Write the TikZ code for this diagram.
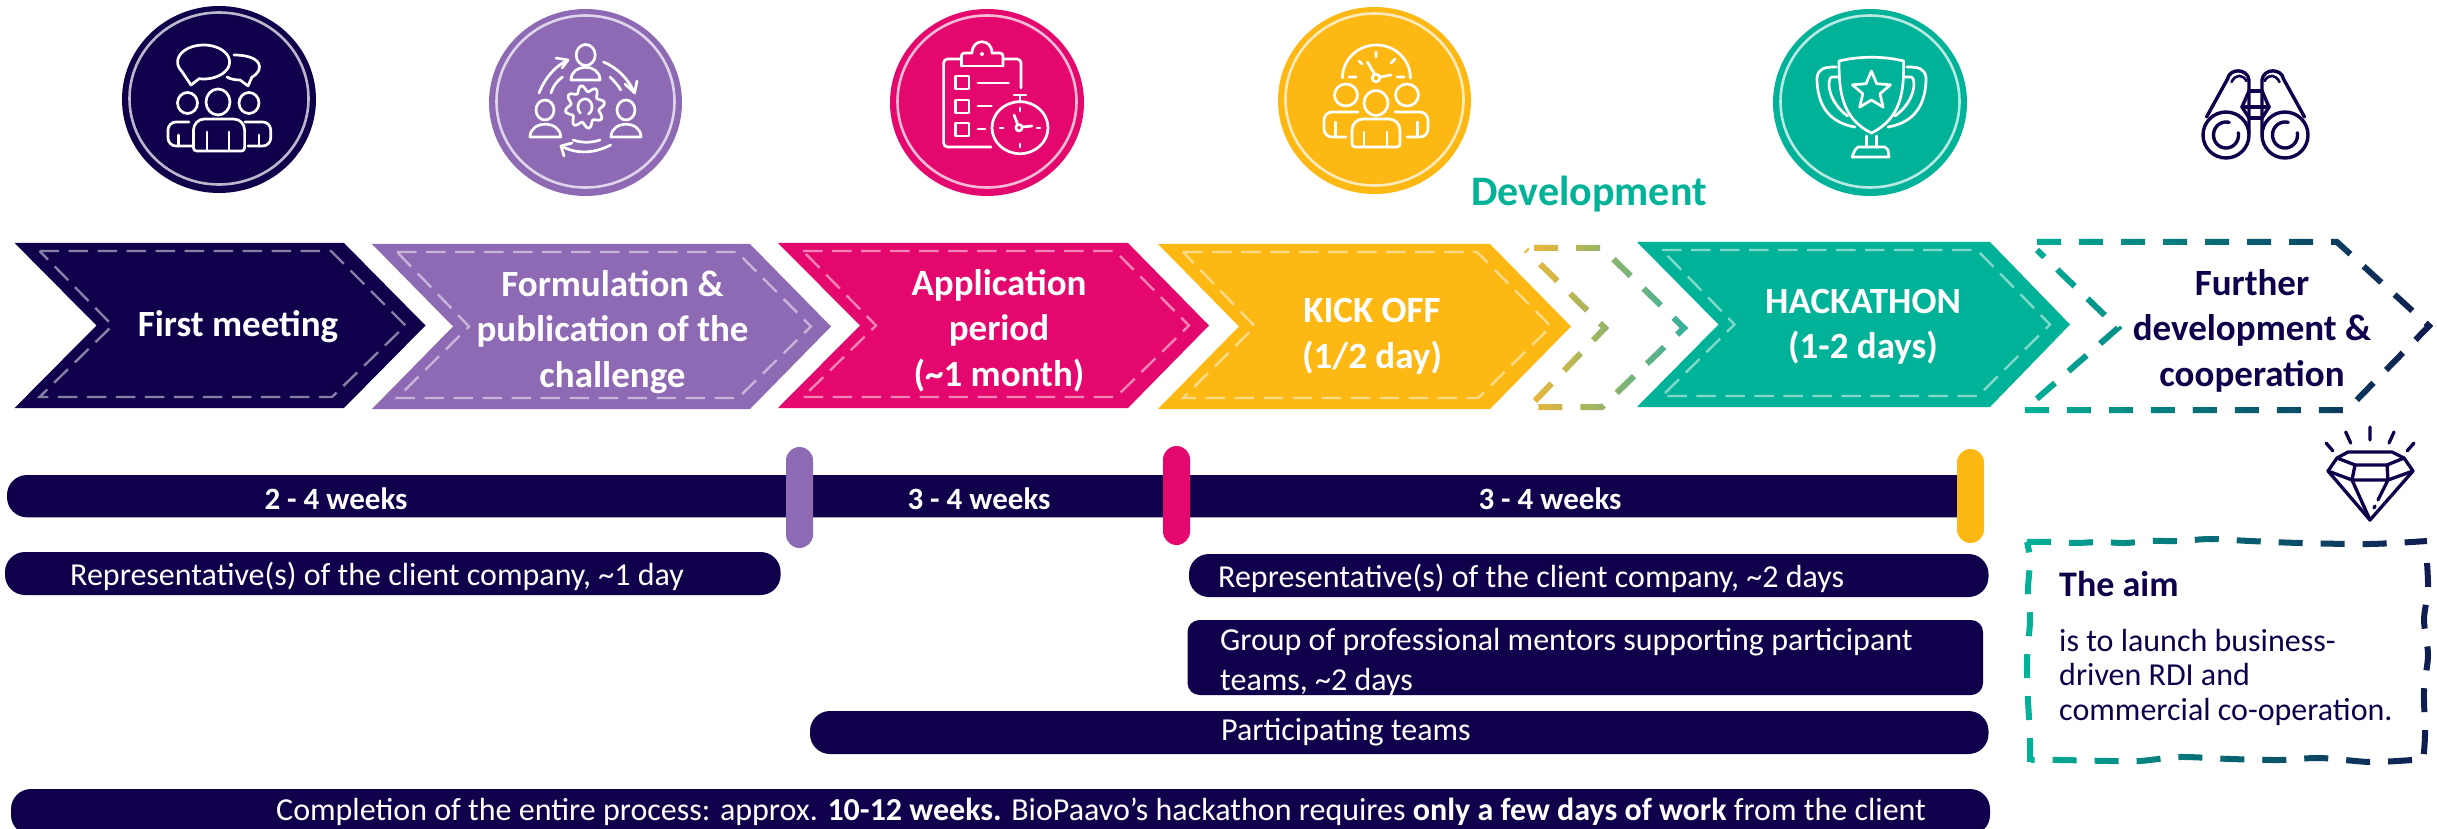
\documentclass[tikz,border=0pt]{standalone}
\usepackage{fontspec}
\setmainfont{Carlito}
\definecolor{navy}{HTML}{10004B}
\definecolor{purp}{HTML}{8E69B4}
\definecolor{pink}{HTML}{E4086E}
\definecolor{yell}{HTML}{FDB813}
\definecolor{teal2}{HTML}{00B398}
\definecolor{dknavy}{HTML}{10184E}
\definecolor{dyell}{HTML}{F3B835}
\definecolor{dteal}{HTML}{30B0A0}
\tikzset{
 x=1pt,y=-1pt,
 ico/.style={draw=white,line width=2.7pt,line cap=round,line join=round},
 nico/.style={draw=navy,line width=3.4pt,line cap=round,line join=round},
 innerdash/.style={draw=white,draw opacity=.5,line width=2.4pt,dash pattern=on 19.5pt off 9.5pt},
 ring/.style={draw=white,draw opacity=.72,line width=2.6pt},
 dashgrad/.style={line width=6pt,dash pattern=on 24pt off 18pt},
 bigbold/.style={font=\fontsize{37}{45.5}\selectfont\bfseries,align=center,inner sep=0pt},
 weeks/.style={font=\fontsize{31}{36}\selectfont\bfseries,text=white,inner sep=0pt,anchor=base},
 barlabel/.style={font=\fontsize{32}{40}\selectfont,text=white,inner sep=0pt,anchor=base west,align=left},
 aimtext/.style={font=\fontsize{32}{34.5}\selectfont,text=navy,inner sep=0pt,anchor=base west,align=left},
}
\newcommand{\ep}[6]{plot[domain=#5:#6,samples=40,smooth] ({#1+#3*cos(\x)},{#2-#4*sin(\x)})}
\newcommand{\chev}[7]{%
 \fill[#7] (#1,#5)--(#2,#5)--(#3,{(#5+#6)/2})--(#2,#6)--(#1,#6)--(#4,{(#5+#6)/2})--cycle;
 \draw[innerdash] ({#1+25},{#5+8})--({#2-13},{#5+8})--({#3-20},{(#5+#6)/2})--({#2-12},{#6-11})--({#1+25},{#6-11})--({#4+16},{(#5+#6)/2})--cycle;
}
\newcommand{\badge}[4]{%
 \fill[#4] (#1,#2) ellipse [x radius=#3,y radius=93.5];
 \draw[ring] (#1,{#2-1}) ellipse [x radius={#3-7.5},y radius=86];
}
\newcommand{\person}[4]{% x0 y0 x1 y1 body
 \draw[ico] ({(#1+#3)/2},#4) [rounded corners=3pt]-- (#1,#4) [rounded corners=11pt]-- (#1,#2) -- (#3,#2) [rounded corners=3pt]-- (#3,#4) [sharp corners]-- cycle;
}
\newcommand{\dome}[4]{% half-dome body
 \draw[ico] (#1,#4) .. controls (#1,{#2-2}) and (#3,{#2-2}) .. (#3,#4) -- cycle;
}
\newcommand{\gradstroke}[6]{%
 \foreach \i in {1,...,#5}{%
  \pgfmathsetmacro\xa{#1+(#2-#1)*(\i-1)/#5}%
  \pgfmathsetmacro\xb{#1+(#2-#1)*\i/#5+0.6}%
  \pgfmathtruncatemacro\pc{100*(\i-0.5)/#5}%
  \begin{scope}
   \clip (\xa,-5) rectangle (\xb,840);
   \draw[dashgrad,draw=#4!\pc!#3] #6;
  \end{scope}
 }%
}
\begin{document}
\begin{tikzpicture}
\clip (0,0) rectangle (2437,829);
\useasboundingbox (0,0) rectangle (2437,829);
\fill[white] (0,0) rectangle (2437,829);

% ---------- badges
\badge{219}{99.5}{97}{navy}
\badge{585.5}{102.5}{96.5}{purp}
\badge{987}{102.5}{97}{pink}
\badge{1374.5}{100.5}{96.5}{yell}
\badge{1870}{102.5}{97}{teal2}

% icon 1: meeting
\draw[ico] \ep{203.6}{62}{26}{17}{-100}{212} -- (191,85) -- cycle;
\draw[ico] (234,55) .. controls (250,55) and (262,60) .. (259,70) .. controls (257,74) and (254,76) .. (252,77) -- (248,86) -- (240,80) .. controls (235,80) and (230,79) .. (227,77);
\draw[ico] (218,102) ellipse [x radius=12,y radius=13];
\draw[ico] (187.5,103) ellipse [x radius=10,y radius=10.5];
\draw[ico] (249,103) ellipse [x radius=10,y radius=10.5];
\person{193.5}{119}{244.6}{151}
\draw[ico] (207,132)--(207,151) (229,132)--(229,151);
\draw[ico,rounded corners=8pt] (189,122)--(168,122)--(168,146)--(193,146);
\draw[ico,rounded corners=8pt] (245,122)--(270.7,122)--(270.7,146)--(248,146);
\draw[ico] (178.5,135)--(178.5,146) (259,135)--(259,146);

% icon 2: co-creation
\draw[ico] (585.7,55) ellipse [x radius=9.5,y radius=10.5];
\dome{571}{65}{600}{80}
\draw[ico] (545,110) ellipse [x radius=9,y radius=10];
\dome{530}{122}{560.7}{137}
\draw[ico] (626,110) ellipse [x radius=9,y radius=10];
\dome{611}{122}{641}{137}
\draw[ico] plot[domain=0:360,samples=97,smooth] ({585+(17+2.8*sin(8*\x))*cos(\x)},{107-(18.5+3*sin(8*\x))*sin(\x)});
\draw[ico] \ep{585}{107}{7}{8}{-60}{230};
\draw[ico] (539,93) .. controls (545,78) and (555,66) .. (568,60);
\draw[ico] (556,58)--(568,60)--(562,68);
\draw[ico] (551,93) .. controls (553,86) and (557,81) .. (562.5,77);
\draw[ico] (603.5,62) .. controls (616,67) and (628,78) .. (634.6,93);
\draw[ico] (625,84)--(634.6,93)--(637,81);
\draw[ico] (610,77) .. controls (614,81) and (618,85) .. (620.7,90);
\draw[ico] (610.7,145) .. controls (595,153) and (578,155) .. (561,146);
\draw[ico] (564,156)--(561,146)--(572,143);
\draw[ico] (573,140) .. controls (582,143) and (591,143) .. (600,140);

% icon 3: application
\draw[ico,rounded corners=4pt] (961,59)--(943.6,59)--(943.6,147)--(991,147);
\draw[ico,rounded corners=4pt] (1003,59)--(1021,59)--(1021,88);
\draw[ico,rounded corners=3pt] (961.4,66)--(961.4,53)--(972,53);
\draw[ico,rounded corners=3pt] (1003,66)--(1003,53)--(992,53);
\draw[ico] (961.4,66)--(1003,66);
\draw[ico] (972,53) .. controls (972,38) and (992,38) .. (992,53);
\fill[white] (982,54) circle (2);
\foreach \yy in {76,100,123}{\draw[ico] (955.7,\yy) rectangle (969,\yy+13);}
\draw[ico] (978,83)--(1008.6,83) (978,106)--(991.4,106) (978,129)--(985,129);
\draw[ico] (1020,127.7) ellipse [x radius=28,y radius=26];
\draw[ico] (1020,95)--(1020,102) (1014,95)--(1026,95);
\draw[ico] (1020,108)--(1020,111) (1020,144)--(1020,147) (1000,128)--(1003,128) (1037,128)--(1040,128);
\draw[ico] (1019,127.7) circle (3.2);
\draw[ico] (1017.5,124)--(1014,115) (1022,127)--(1032,126);

% icon 4: kick off
\draw[ico] \ep{1376.4}{78}{34}{33}{0}{180};
\draw[ico] (1349,77)--(1356,77) (1397,77)--(1404,77) (1359,61)--(1362,64) (1391,63)--(1395,59) (1376,52)--(1376,57);
\draw[ico] (1376,78) circle (3.8);
\draw[ico] (1374.5,74)--(1367.5,62) (1380,77)--(1391,75);
\draw[ico] (1376,103) ellipse [x radius=12,y radius=12.5];
\draw[ico] (1346,95) ellipse [x radius=11.5,y radius=11];
\draw[ico] (1407,95) ellipse [x radius=11.5,y radius=11];
\person{1352}{119}{1400}{147}
\draw[ico] (1364,132)--(1364,147) (1387,132)--(1387,147);
\draw[ico,rounded corners=8pt] (1358,112)--(1324,112)--(1324,137)--(1346,137);
\draw[ico,rounded corners=8pt] (1395,112)--(1428,112)--(1428,137)--(1407,137);
\draw[ico] (1335.4,122)--(1335.4,137) (1417.5,122)--(1417.5,137);

% icon 5: trophy
\draw[ico] (1839,61) .. controls (1860,56) and (1883,56) .. (1903.6,61) .. controls (1904,90) and (1902,118) .. (1871.4,133) .. controls (1841,118) and (1839,90) .. (1839,61) -- cycle;
\draw[ico] (1836,67) .. controls (1825,67) and (1818,68) .. (1817,78) .. controls (1817,100) and (1825,122) .. (1855,127);
\draw[ico] (1907,67) .. controls (1918,67) and (1925,68) .. (1926,78) .. controls (1926,100) and (1918,122) .. (1888,127);
\draw[ico] (1838,77) -- (1832,77) .. controls (1827,77) and (1826,100) .. (1847.5,116);
\draw[ico] (1905,77) -- (1911,77) .. controls (1916,77) and (1917,100) .. (1895,116);
\draw[ico] plot[samples=11,domain=0:10] ({1871.4+(14.5+5.5*cos(180*\x))*cos(90+36*\x)},{91-(14.5+5.5*cos(180*\x))*sin(90+36*\x)}) -- cycle;
\draw[ico] (1866.4,136)--(1866.4,147) (1876.4,136)--(1876.4,147);
\draw[ico] (1852,157)--(1855,150)--(1858,147)--(1885,147)--(1888,150)--(1889,157)--cycle;

% icon 6: binoculars
\foreach \s in {1,-1}{
 \begin{scope}[shift={(2255.5,0)},xscale=\s]
  \draw[nico] (-49,117)--(-28,79) .. controls (-26,68) and (-8,68) .. (-6.5,80) -- (-6.5,133);
  \draw[nico,line width=2.6pt] (-24,82) .. controls (-20,74) and (-13,74) .. (-9,81);
  \draw[nico] (-6.5,91)--(-13.5,107)--(-6.5,118);
  \draw[nico] (-6.5,91)--(0,91) (-13.5,107)--(0,107) (-6.5,118)--(0,118);
  \draw[nico] (-29.5,135) ellipse [x radius=23,y radius=23];
 \end{scope}
}
\draw[nico] \ep{2226}{135}{12.5}{13}{75}{370};
\draw[nico] \ep{2285}{135}{12.5}{13}{75}{370};

% ---------- dashed development chevron
\gradstroke{1524}{1690}{dyell}{dteal}{16}{(1534,248)--(1602,248)--(1684,328)--(1602,407)--(1529,407)--(1605,328)--(1526,250)}

% ---------- chevrons
\chev{14.6}{344}{425.5}{96.5}{243}{408}{navy}
\chev{372}{750}{831}{453}{244}{409}{purp}
\chev{778}{1128}{1209}{860}{243}{408}{pink}
\chev{1158}{1490}{1571}{1239}{244}{409}{yell}
\chev{1637}{1990}{2070}{1718.5}{242}{407}{teal2}

% ---------- further development chevron
\gradstroke{2020}{2435}{teal2}{dknavy}{24}{(2037,242)--(2337,242)--(2429,326)--(2347,410)--(2024,410)--(2118,328)--(2037,250)}

% ---------- chevron labels
\node[bigbold,text=white,anchor=base] (firstm) at (238,336) {First meeting};
\node[bigbold,text=white,anchor=base] (formul) at (612.5,387) {Formulation \&\\publication of the\\challenge};
\node[bigbold,text=white,anchor=base] (applic) at (999,386) {Application\\period\\(\textasciitilde 1 month)};
\node[bigbold,text=white,anchor=base] (kickoff) at (1372,368) {KICK OFF\\(1/2 day)};
\node[bigbold,text=white,anchor=base] (hack) at (1863,358.5) {HACKATHON\\(1-2 days)};
\node[bigbold,text=navy,anchor=base] (further) at (2252,386) {Further\\development \&\\cooperation};
\node[font=\fontsize{42}{50}\selectfont\bfseries,text=teal2,inner sep=0pt,anchor=base] (devel) at (1589,205.5) {Development};

% ---------- time line
\fill[navy] (1960,475) [rounded corners=20pt]-- (7,475) -- (7,517.3) [sharp corners]-- (1960,517.3) -- cycle;
\fill[purp,rounded corners=13.5pt] (786,447) rectangle (813,548);
\fill[pink,rounded corners=13.5pt] (1163,446) rectangle (1190,545);
\fill[yell,rounded corners=13.5pt] (1957,449) rectangle (1984,543);
\node[weeks] (w1) at (336,509.5) {2 - 4 weeks};
\node[weeks] (w2) at (979,509.5) {3 - 4 weeks};
\node[weeks] (w3) at (1550,509.5) {3 - 4 weeks};

% ---------- bars
\fill[navy,rounded corners=20pt] (5,552) rectangle (780.6,595);
\node[barlabel] (rep1) at (70,585) {Representative(s) of the client company, \textasciitilde 1 day};
\fill[navy,rounded corners=20pt] (1189,554) rectangle (1988.5,597);
\node[barlabel] (rep2) at (1218,587.5) {Representative(s) of the client company, \textasciitilde 2 days};
\fill[navy,rounded corners=12pt] (1187.5,620) rectangle (1983,695);
\node[barlabel] (group) at (1220,690.5) {Group of professional mentors supporting participant\\teams, \textasciitilde 2 days};
\fill[navy,rounded corners=20pt] (810,711) rectangle (1988.5,754);
\node[barlabel] (teams) at (1221,740.5) {Participating teams};
\fill[navy,rounded corners=20pt] (11,789) rectangle (1990,835);
\node[barlabel] (compl) at (276,820.5) {Completion of the entire process: approx. \textbf{10-12 weeks.} BioPaavo's hackathon requires \textbf{only a few days of work} from the client};

% ---------- diamond
\begin{scope}[line width=3.3pt]
\draw[nico,line width=3.3pt] (2370,427)--(2370,440) (2345.7,432)--(2350.7,443) (2394,432)--(2389,443) (2326,443)--(2333,451) (2414,443)--(2407,451);
\draw[nico,line width=3.3pt] (2348,452)--(2392,452)--(2404,458)--(2413,471)--(2370,520)--(2328,471)--(2337,458)--cycle;
\draw[nico,line width=3.3pt] (2337,458)--(2355,465)--(2387,465)--(2404,458);
\draw[nico,line width=3.3pt] (2355,465)--(2352,480) (2387,465)--(2388,480);
\draw[nico,line width=3.3pt] (2328,471)--(2352,480)--(2388,480)--(2413,471);
\draw[nico,line width=3.3pt] (2352,480)--(2370,520) (2388,480)--(2378,500) (2375,506)--(2374,508);
\end{scope}

% ---------- aim box
\gradstroke{2020}{2435}{teal2}{dknavy}{24}{plot[smooth,tension=.5] coordinates {(2027,542)(2050,542)(2075,543)(2100,542)(2125,543)(2150,541)(2180,541)(2210,539)(2250,541)(2300,543)(2370,544)(2427,541)} -- (2427,541) plot[smooth,tension=.5] coordinates {(2427,563)(2428,590)(2424,620)(2428,655)(2424,690)(2425,735)(2423,762)} plot[smooth,tension=.5] coordinates {(2412,760)(2370,762)(2320,758)(2280,760)(2230,759)(2180,757)(2140,761)(2110,761)(2060,760)(2031,760)} plot[smooth,tension=.5] coordinates {(2030,762)(2030,735)(2028,700)(2027,660)(2030,620)(2028,590)(2030,560)(2027,542)}}

\node[font=\fontsize{36}{42}\selectfont\bfseries,text=navy,inner sep=0pt,anchor=base west] (aimh) at (2059,596) {The aim};
\node[aimtext] (aimb) at (2059,720) {is to launch business-\\driven RDI and\\commercial co-operation.};
\end{tikzpicture}
\end{document}
